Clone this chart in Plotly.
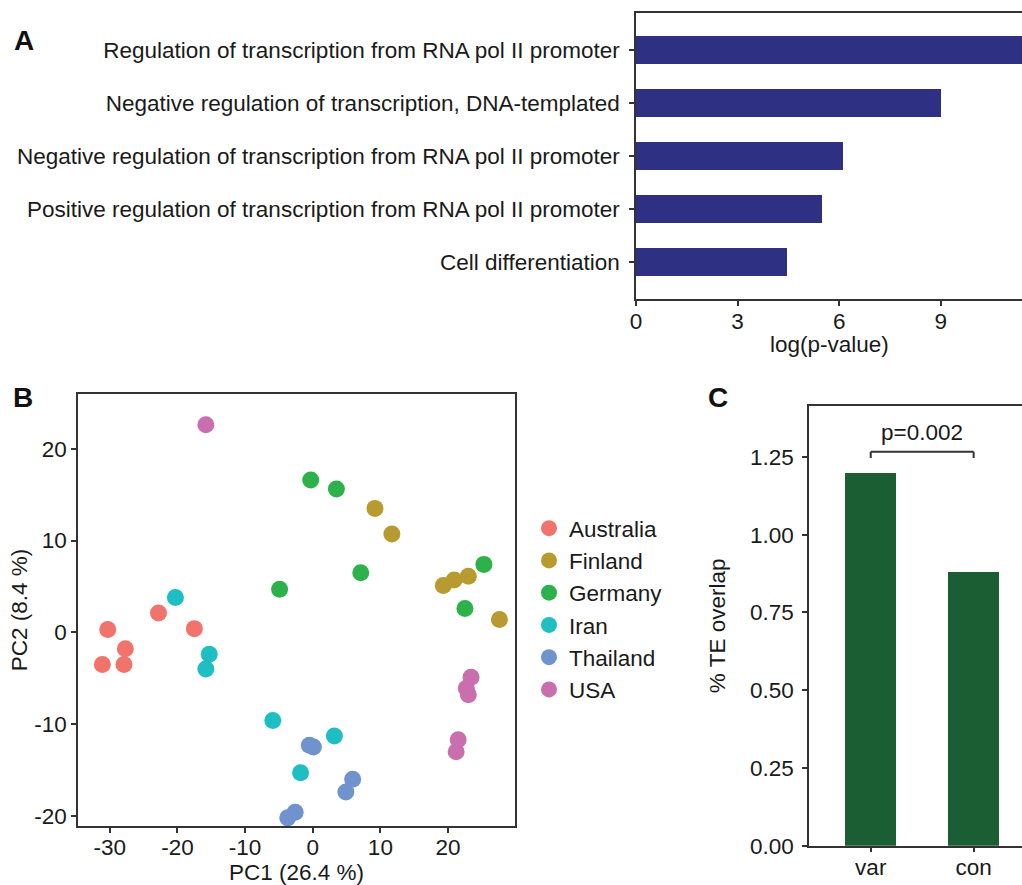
import plotly.graph_objects as go

# ---------------- Data ----------------
# Panel A
go_terms = [
    "Regulation of transcription from RNA pol II promoter",
    "Negative regulation of transcription, DNA-templated",
    "Negative regulation of transcription from RNA pol II promoter",
    "Positive regulation of transcription from RNA pol II promoter",
    "Cell differentiation",
]
log_p = [11.8, 9.0, 6.1, 5.5, 4.45]

# Panel B (PCA)
countries = ["Australia", "Finland", "Germany", "Iran", "Thailand", "USA"]
colors = ["#F0736C", "#B89B30", "#2DB24B", "#1FBEC3", "#7093CE", "#C96FAE"]
pc1 = {
    "Australia": [-30.3, -27.7, -31.1, -27.9, -22.8, -17.5],
    "Finland":   [9.2, 11.7, 19.3, 20.9, 23.0, 27.6],
    "Germany":   [-0.3, 3.5, -4.9, 7.1, 25.3, 22.5],
    "Iran":      [-20.3, -15.3, -15.8, -5.9, 3.2, -1.8],
    "Thailand":  [-0.5, 0.1, 5.9, 4.9, -2.6, -3.7],
    "USA":       [-15.8, 23.4, 22.7, 23.0, 21.5, 21.2],
}
pc2 = {
    "Australia": [0.3, -1.8, -3.5, -3.5, 2.1, 0.4],
    "Finland":   [13.5, 10.7, 5.1, 5.7, 6.1, 1.4],
    "Germany":   [16.6, 15.6, 4.7, 6.5, 7.4, 2.6],
    "Iran":      [3.8, -2.4, -4.0, -9.6, -11.3, -15.3],
    "Thailand":  [-12.3, -12.5, -16.0, -17.4, -19.6, -20.2],
    "USA":       [22.6, -4.9, -6.1, -6.8, -11.7, -13.0],
}
pcx_ticks = [-30, -20, -10, 0, 10, 20]
pcx_labels = ["-30", "-20", "-10", "0", "10", "20"]
pcy_ticks = [-20, -10, 0, 10, 20]
pcy_labels = ["-20", "-10", "0", "10", "20"]

# Panel C
te_groups = ["var", "con"]
te_overlap = [1.20, 0.879]
p_text = "p=0.002"

# ---------------- Figure ----------------
FONT = "Liberation Sans, Arial, sans-serif"
AX = "#333333"
TXT = "#1a1a1a"
FS = 22.5

fig = go.Figure()

# Panel A bars
fig.add_trace(go.Bar(
    x=log_p, y=go_terms, orientation="h",
    marker=dict(color="#2E3083", line=dict(width=0)),
    width=0.53, xaxis="x", yaxis="y", showlegend=False,
))

# Panel B scatter
for c, col in zip(countries, colors):
    fig.add_trace(go.Scatter(
        x=pc1[c], y=pc2[c], mode="markers", name=c,
        marker=dict(color=col, size=17, line=dict(width=0)),
        xaxis="x2", yaxis="y2", legendgroup=c,
    ))

# Panel C bars
fig.add_trace(go.Bar(
    x=te_groups, y=te_overlap,
    marker=dict(color="#1B5E33", line=dict(width=0)),
    width=0.5, xaxis="x3", yaxis="y3", showlegend=False,
))

axis_common = dict(
    showline=True, linecolor=AX, linewidth=1.5,
    ticks="outside", ticklen=5, tickwidth=1.5, tickcolor=AX,
    showgrid=False, zeroline=False,
    tickfont=dict(family=FONT, size=FS, color=TXT),
)
tfont = dict(size=FS, family=FONT, color=TXT)

fig.update_layout(
    width=1022, height=885,
    margin=dict(l=0, r=0, t=0, b=0, autoexpand=False),
    paper_bgcolor="white", plot_bgcolor="white",
    font=dict(family=FONT, size=FS, color=TXT),
    bargap=0,
    # Panel A
    xaxis=dict(axis_common, domain=[636/1022, 1.0], anchor="y",
               range=[0, 11.4], tickvals=[0, 3, 6, 9], mirror=True, ticklabelstandoff=-4),
    yaxis=dict(axis_common, domain=[1-299/885, 1-13/885], anchor="x",
               categoryorder="array", categoryarray=go_terms,
               range=[4.7, -0.7], ticklabelstandoff=5),
    # Panel B
    xaxis2=dict(axis_common, domain=[78/1022, 515/1022], anchor="y2",
                range=[-34.7, 29.9], tickvals=pcx_ticks, ticktext=pcx_labels, mirror=True,
                ticklabelstandoff=-5,
                title=dict(text="PC1 (26.4 %)", font=tfont, standoff=4)),
    yaxis2=dict(axis_common, domain=[1-826/885, 1-394/885], anchor="x2",
                range=[-21.1, 25.96], tickvals=pcy_ticks, ticktext=pcy_labels, mirror=True,
                title=dict(text="PC2 (8.4 %)", font=tfont, standoff=0)),
    # Panel C
    xaxis3=dict(axis_common, domain=[809/1022, 1.0], anchor="y3",
                range=[-0.6, 1.47], mirror=True, ticklabelstandoff=-4),
    yaxis3=dict(axis_common, domain=[1-845.7/885, 1-406/885], anchor="x3",
                range=[0, 1.414], tickvals=[0, 0.25, 0.5, 0.75, 1.0, 1.25],
                ticktext=["0.00", "0.25", "0.50", "0.75", "1.00", "1.25"],
                ticklabelstandoff=4,
                title=dict(text="% TE overlap", font=tfont, standoff=18)),
    legend=dict(
        x=529/1022, y=1-507/885, xanchor="left", yanchor="top",
        font=dict(family=FONT, size=FS, color=TXT),
        bgcolor="rgba(0,0,0,0)", tracegroupgap=0, itemsizing="trace",
    ),
)

# Panel A x-axis title
fig.add_annotation(x=829/1022, y=1-344/885, xref="paper", yref="paper", text="log(p-value)",
                   showarrow=False, xanchor="center", yanchor="middle", font=tfont)

# Significance bracket panel C
fig.add_shape(type="line", xref="x3", yref="y3", x0=0, x1=1, y0=1.267, y1=1.267,
              line=dict(color=AX, width=2))
fig.add_shape(type="line", xref="x3", yref="y3", x0=0, x1=0, y0=1.267, y1=1.247,
              line=dict(color=AX, width=2))
fig.add_shape(type="line", xref="x3", yref="y3", x0=1, x1=1, y0=1.267, y1=1.247,
              line=dict(color=AX, width=2))
fig.add_annotation(x=0.5, y=1.328, xref="x3", yref="y3", text=p_text, showarrow=False,
                   font=dict(family=FONT, size=FS, color=TXT))

# Panel letters
for letter, px, py in [("A", 24, 40), ("B", 23, 398), ("C", 718, 398)]:
    fig.add_annotation(x=px/1022, y=1-py/885, xref="paper", yref="paper", text="<b>%s</b>" % letter,
                       showarrow=False, xanchor="center", yanchor="middle",
                       font=dict(family=FONT, size=28, color="#111111"))

fig.write_html("out.html")
